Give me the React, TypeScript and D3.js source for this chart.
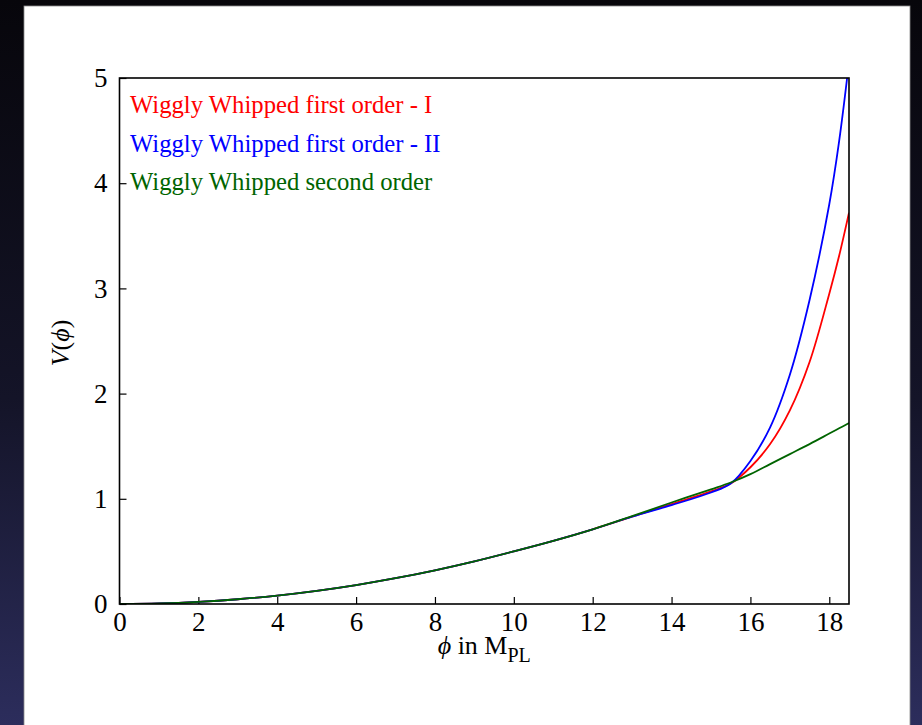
import React, {useEffect, useRef} from 'react'
import * as d3 from 'd3';

// values
const phi = [0, 1, 2, 3, 4, 5, 6, 7, 8, 9, 10, 11, 12, 13, 14, 15, 15.5, 16, 16.5, 17, 17.5, 18, 18.25, 18.5];
const firstOrderI = [0, 0.005, 0.02, 0.045, 0.08, 0.125, 0.18, 0.245, 0.32, 0.405, 0.5, 0.6, 0.71, 0.83, 0.95, 1.07, 1.145, 1.3, 1.52, 1.84, 2.3, 2.95, 3.31, 3.72];
const firstOrderII = [0, 0.005, 0.02, 0.045, 0.08, 0.125, 0.18, 0.245, 0.32, 0.405, 0.5, 0.6, 0.71, 0.83, 0.94, 1.06, 1.145, 1.36, 1.68, 2.18, 2.89, 3.8, 4.4, 5.15];
const secondOrder = [0, 0.005, 0.02, 0.045, 0.08, 0.125, 0.18, 0.245, 0.32, 0.405, 0.5, 0.6, 0.71, 0.835, 0.965, 1.09, 1.155, 1.235, 1.33, 1.425, 1.52, 1.62, 1.67, 1.72];

const seriesNames = ['Wiggly Whipped first order - I', 'Wiggly Whipped first order - II', 'Wiggly Whipped second order'];
const seriesColors = ['#ff0000', '#0000ff', '#006400'];
const seriesValues = [firstOrderI, firstOrderII, secondOrder];

const xTicks = [0, 2, 4, 6, 8, 10, 12, 14, 16, 18];
const yTicks = [0, 1, 2, 3, 4, 5];

const W = 922, H = 725;
const FONT = '"Liberation Serif", "Times New Roman", serif';

export default function App() {
    const svgRef = useRef<SVGSVGElement>(null);

    useEffect(() => {
        const svg = d3.select(svgRef.current);
        svg.selectAll('*').remove();

        const margin = {top: 78, right: 73, bottom: 121, left: 119.5};
        const width = W - margin.left - margin.right,
            height = H - margin.top - margin.bottom;

        // dark slide background + white panel
        const defs = svg.append('defs');
        const grad = defs.append('linearGradient').attr('id', 'bg').attr('x1', 0).attr('y1', 0).attr('x2', 0).attr('y2', 1);
        grad.append('stop').attr('offset', '0%').attr('stop-color', '#07060b');
        grad.append('stop').attr('offset', '55%').attr('stop-color', '#141428');
        grad.append('stop').attr('offset', '100%').attr('stop-color', '#2c2d5c');
        defs.append('clipPath').attr('id', 'plotclip')
            .append('rect').attr('width', width).attr('height', height);

        svg.append('rect').attr('width', W).attr('height', H).attr('fill', 'url(#bg)');
        svg.append('rect').attr('x', 24).attr('y', 6).attr('width', 886).attr('height', H)
            .attr('fill', '#ffffff').attr('stroke', '#8a8a8a').attr('stroke-width', 0.8);

        const g = svg.append('g').attr('transform', `translate(${margin.left},${margin.top})`);

        const x = d3.scaleLinear().domain([0, 18.5]).range([0, width]);
        const y = d3.scaleLinear().domain([0, 5]).range([height, 0]);

        // x axis, ticks pointing inward
        const xAxis = g.append('g')
            .attr('transform', `translate(0,${height})`)
            .call(d3.axisBottom(x).tickValues(xTicks).tickSizeInner(-7).tickSizeOuter(0).tickPadding(8).tickFormat(d3.format('d')));
        // y axis
        const yAxis = g.append('g')
            .call(d3.axisLeft(y).tickValues(yTicks).tickSizeInner(-7).tickSizeOuter(0).tickPadding(12).tickFormat(d3.format('d')));

        [xAxis, yAxis].forEach(a => {
            a.select('.domain').remove();
            a.selectAll('line').attr('stroke', '#000').attr('stroke-width', 1.2);
            a.selectAll('text').attr('font-family', FONT).attr('font-size', 27).attr('fill', '#000');
        });

        // the lines
        const lineGen = d3.line<number>()
            .x((d, i) => x(phi[i]))
            .y(d => y(d))
            .curve(d3.curveCatmullRom.alpha(0.5));

        const lines = g.append('g').attr('clip-path', 'url(#plotclip)');
        seriesValues.forEach((vals, k) => {
            lines.append('path')
                .datum(vals)
                .attr('fill', 'none')
                .attr('stroke', seriesColors[k])
                .attr('stroke-width', 1.8)
                .attr('d', lineGen);
        });

        // frame
        g.append('rect').attr('width', width).attr('height', height)
            .attr('fill', 'none').attr('stroke', '#000').attr('stroke-width', 1.6);

        // legend
        seriesNames.forEach((name, k) => {
            g.append('text')
                .attr('x', 10.5)
                .attr('y', 35 + k * 38.5)
                .attr('font-family', FONT)
                .attr('font-size', 24.7)
                .attr('fill', seriesColors[k])
                .text(name);
        });

        // axis titles
        const xt = svg.append('text')
            .attr('x', margin.left + width / 2)
            .attr('y', 654)
            .attr('text-anchor', 'middle')
            .attr('font-family', FONT)
            .attr('font-size', 26)
            .attr('fill', '#000');
        xt.append('tspan').attr('font-style', 'italic').text('ϕ');
        xt.append('tspan').text(' in M');
        xt.append('tspan').attr('font-size', 20).attr('dy', 8).text('PL');

        const yt = svg.append('text')
            .attr('transform', `translate(69,${margin.top + height / 2 + 2}) rotate(-90)`)
            .attr('text-anchor', 'middle')
            .attr('font-family', FONT)
            .attr('font-size', 26)
            .attr('fill', '#000');
        yt.append('tspan').attr('font-style', 'italic').text('V');
        yt.append('tspan').text('(');
        yt.append('tspan').attr('font-style', 'italic').text('ϕ');
        yt.append('tspan').text(')');
    }, []);

    const svgStyles: React.CSSProperties = {
        display: 'block',
        position: 'fixed',
        top: 0,
        left: 0
    };

    return (
        <div>
            <svg ref={svgRef} width={W} height={H} style={svgStyles} />
        </div>
    );
}
